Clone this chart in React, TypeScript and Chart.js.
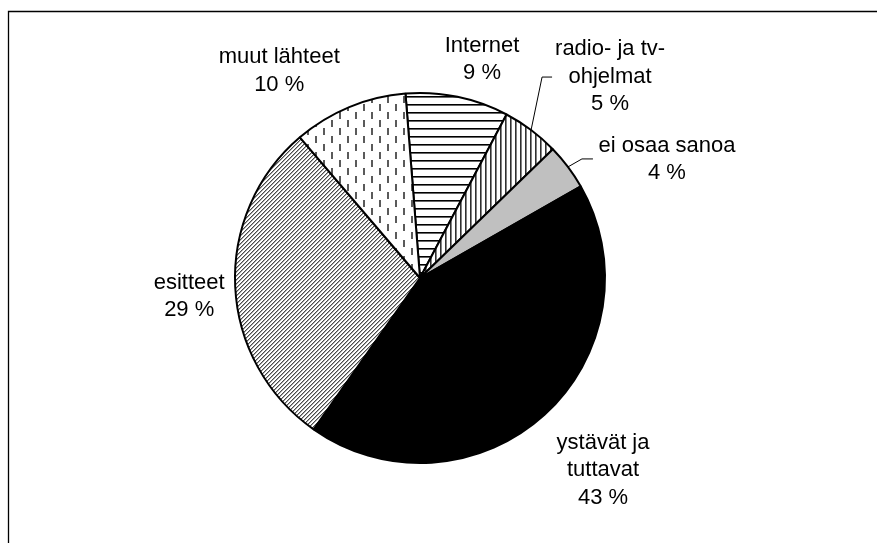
import React, { useEffect, useRef } from 'react';
import { Chart, registerables } from 'chart.js';

Chart.register(...registerables);

const categories = ['Internet', 'radio- ja tv-ohjelmat', 'ei osaa sanoa', 'ystävät ja tuttavat', 'esitteet', 'muut lähteet'];
const values = [9, 5, 4, 43, 29, 10];
const labelNameLines = [['Internet'], ['radio- ja tv-', 'ohjelmat'], ['ei osaa sanoa'], ['ystävät ja', 'tuttavat'], ['esitteet'], ['muut lähteet']];
// label placement nudges relative to each slice's outer mid point (first baseline)
const labelNudges = [[24.5, -45], [79, -75], [99, -15], [58.5, 34], [-46, 2], [-70, -44]];
// leader lines: [elbow dx, elbow dy, horizontal length] or null
const leaders: (number[] | null)[] = [null, [11, -53, 10], [14, -8, 11], null, null, null];

function makeTile(w: number, h: number, draw: (c: CanvasRenderingContext2D) => void) {
  const cv = document.createElement('canvas');
  cv.width = w;
  cv.height = h;
  const c = cv.getContext('2d')!;
  c.fillStyle = '#ffffff';
  c.fillRect(0, 0, w, h);
  draw(c);
  return c.createPattern(cv, 'repeat')!;
}

function buildFills() {
  const horiz = makeTile(8, 8, (c) => {
    c.fillStyle = '#000000';
    c.fillRect(0, 0, 8, 1.6);
  });
  const vert = makeTile(5, 5, (c) => {
    c.fillStyle = '#303030';
    c.fillRect(0, 0, 1.6, 5);
  });
  const diag = makeTile(4, 4, (c) => {
    for (let i = 0; i < 4; i++) {
      c.fillStyle = '#4a4a4a';
      c.fillRect(i, 3 - i, 1, 1);
      c.fillStyle = '#a8a8a8';
      c.fillRect((i + 1) % 4, 3 - i, 1, 1);
    }
  });
  const dashed = makeTile(16, 16, (c) => {
    c.fillStyle = '#5a5a5a';
    c.fillRect(3, 0, 2, 7);
    c.fillRect(11, 8, 2, 7);
  });
  return [horiz, vert, '#c0c0c0', '#000000', diag, dashed];
}

const FONT = '22px "Liberation Sans", Arial, sans-serif';
const LINE_H = 27.5;

const labelPlugin = {
  id: 'customLabels',
  beforeDraw(chart: any) {
    const ctx = chart.ctx;
    ctx.save();
    ctx.strokeStyle = '#000000';
    ctx.lineWidth = 1.3;
    ctx.beginPath();
    ctx.moveTo(8.5, 543);
    ctx.lineTo(8.5, 11.5);
    ctx.lineTo(877, 11.5);
    ctx.stroke();
    ctx.restore();
  },
  afterDatasetsDraw(chart: any) {
    const ctx = chart.ctx;
    const meta = chart.getDatasetMeta(0);
    ctx.save();
    ctx.font = FONT;
    ctx.fillStyle = '#000000';
    ctx.textAlign = 'center';
    ctx.textBaseline = 'alphabetic';
    meta.data.forEach((arc: any, i: number) => {
      const p = arc.getProps(['x', 'y', 'startAngle', 'endAngle', 'outerRadius'], true);
      const mid = (p.startAngle + p.endAngle) / 2;
      const ox = p.x + Math.cos(mid) * p.outerRadius;
      const oy = p.y + Math.sin(mid) * p.outerRadius;
      const lines = [...labelNameLines[i], `${values[i]} %`];
      const [dx, dy] = labelNudges[i];
      lines.forEach((t, k) => {
        ctx.fillText(t, ox + dx, oy + dy + k * LINE_H);
      });
      const ld = leaders[i];
      if (ld) {
        ctx.strokeStyle = '#000000';
        ctx.lineWidth = 1;
        ctx.beginPath();
        ctx.moveTo(ox, oy);
        ctx.lineTo(ox + ld[0], oy + ld[1]);
        ctx.lineTo(ox + ld[0] + ld[2], oy + ld[1]);
        ctx.stroke();
      }
    });
    ctx.restore();
  },
};

export default function App() {
  const ref = useRef<HTMLCanvasElement>(null);
  useEffect(() => {
    if (!ref.current) return;
    const chart = new Chart(ref.current, {
      type: 'pie',
      data: {
        labels: categories,
        datasets: [
          {
            data: values,
            backgroundColor: buildFills() as any,
            borderColor: '#000000',
            borderWidth: 2,
          },
        ],
      },
      options: {
        responsive: false,
        animation: false,
        devicePixelRatio: 1,
        rotation: -4.5,
        radius: 185,
        layout: { padding: { left: 0, right: 37, top: 13, bottom: 0 } },
        plugins: {
          legend: { display: false },
          tooltip: { enabled: false },
        },
        events: [],
      } as any,
      plugins: [labelPlugin],
    });
    return () => chart.destroy();
  }, []);
  return (
    <div style={{ position: 'absolute', left: 0, top: 0, width: 877, height: 543, background: '#ffffff' }}>
      <canvas ref={ref} width={877} height={543} style={{ display: 'block', width: 877, height: 543 }} />
    </div>
  );
}
